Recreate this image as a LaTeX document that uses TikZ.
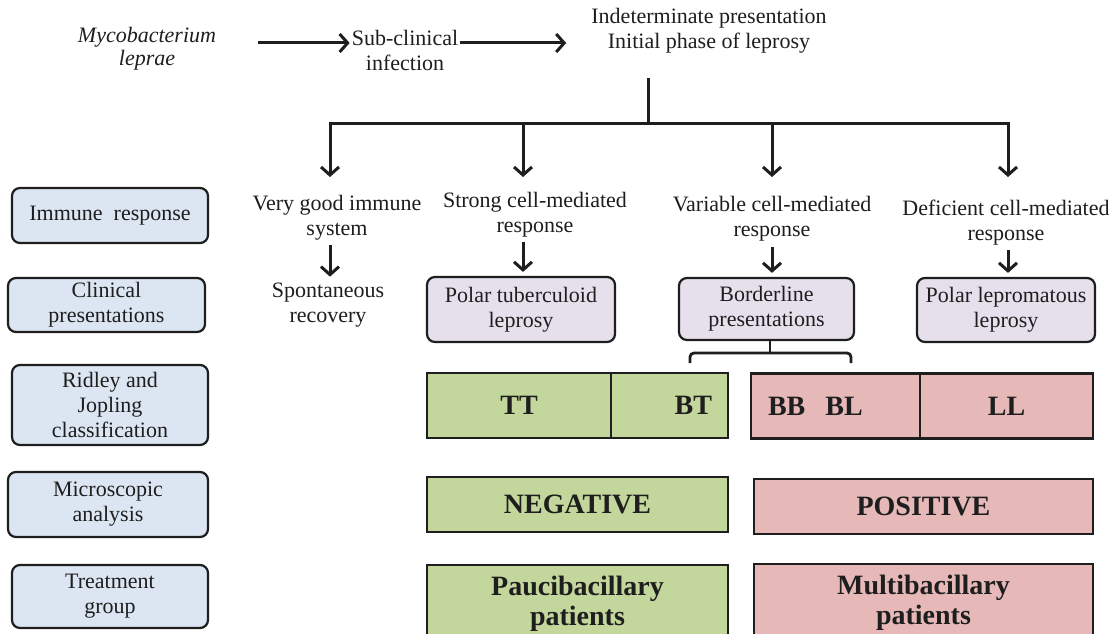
\documentclass[tikz,border=0pt]{standalone}
\usepackage{fontspec}
\setmainfont{Liberation Serif}
\usepackage{tikz}
\usetikzlibrary{arrows.meta}

\definecolor{ink}{HTML}{1E1E1E}
\definecolor{rowblue}{HTML}{DCE6F2}
\definecolor{boxlilac}{HTML}{E5E0EC}
\definecolor{pbgreen}{HTML}{C3D69B}
\definecolor{mbpink}{HTML}{E6B9B8}

\begin{document}
\begin{tikzpicture}[x=1pt, y=-1pt,
    every node/.style={font=\fontsize{22}{25}\selectfont, text=ink, align=center},
    txt/.style={inner sep=2pt},
    rowbox/.style={draw=ink, line width=2.2pt, fill=rowblue, rounded corners=8pt, inner sep=2pt},
    presbox/.style={draw=ink, line width=2.2pt, fill=boxlilac, rounded corners=8pt, inner sep=2pt},
    pbbox/.style={draw=ink, line width=2.2pt, fill=pbgreen, inner sep=2pt,
        font=\fontsize{28}{30}\selectfont\bfseries},
    mbbox/.style={pbbox, fill=mbpink},
    line/.style={draw=ink, line width=3pt},
    arr/.style={line, -{Straight Barb[length=8pt,width=18pt]}}]
    \fill[white] (0,0) rectangle (1117,634);
    \useasboundingbox (0,0) rectangle (1117,634);

    % top row
    \node (myco) [txt, font=\fontsize{22}{23}\selectfont\itshape] at (147,48.5) {Mycobacterium\\ leprae};
    \node (subclin) [txt] at (405,50) {Sub-clinical\\ infection};
    \node (indet) [txt] at (709,30.5) {Indeterminate presentation\\ Initial phase of leprosy};
    \draw[arr] ([xshift=40pt,yshift=5.5pt]myco.east) coordinate (a1) -- (subclin.west |- a1);
    \coordinate (a2) at ([xshift=-23pt]indet.west);
    \draw[arr] (subclin.east |- a1) -- (a2 |- a1);

    % left column
    \node (imm) [rowbox, minimum width=196pt, minimum height=55pt] at (110,215.5) {Immune~ response};
    \node (clin) [rowbox, minimum width=197pt, minimum height=54pt] at (106.5,305) {Clinical\\ presentations};
    \node (rj) [rowbox, minimum width=196pt, minimum height=80pt] at (110,405) {Ridley and\\ Jopling\\ classification};
    \node (mic) [rowbox, minimum width=200pt, minimum height=65pt] at (108,504.5) {Microscopic\\ analysis};
    \node (trt) [rowbox, minimum width=196pt, minimum height=63pt] at (110,596.5) {Treatment\\ group};

    % immune response
    \node (vg) [txt] at (337,217.5) {Very good immune\\ system};
    \node (sc) [txt] at (535,214.5) {Strong cell-mediated\\ response};
    \node (vc) [txt] at (772,219) {Variable cell-mediated\\ response};
    \node (dc) [txt] at (1006,222.5) {Deficient cell-mediated\\ response};

    % tree
    \coordinate (split) at (648,123);
    \coordinate (tips) at (0,177);
    \coordinate (c1) at (330,123);
    \coordinate (c2) at (523,123);
    \coordinate (c3) at (772,123);
    \coordinate (c4) at (1008,123);
    \draw[line, shorten <=23pt] (split |- indet.south) -- (split);
    \draw[arr] (split) -| (c1 |- tips);
    \draw[arr] (split) -| (c4 |- tips);
    \foreach \c in {c2, c3}
        \draw[arr] (\c) -- (\c |- tips);

    % clinical presentations
    \node (sr) [txt] at (328,305) {Spontaneous\\ recovery};
    \node (ptl) [presbox, minimum width=188pt, minimum height=65pt] at (521,309.5) {Polar tuberculoid\\ leprosy};
    \node (bord) [presbox, minimum width=175pt, minimum height=62pt] at (766.5,309) {Borderline\\ presentations};
    \node (plep) [presbox, minimum width=178pt, minimum height=64pt] at (1006,310) {Polar lepromatous\\ leprosy};
    \foreach \c/\a/\b in {c1/vg/sr, c2/sc/ptl, c3/vc/bord, c4/dc/plep}
        \draw[arr, shorten <=3pt, shorten >=4pt] (\c |- \a.south) -- (\c |- \b.north);

    % bracket
    \coordinate (brm) at (770,353);
    \coordinate (brl) at (690,363);
    \coordinate (brr) at (851,363);
    \draw[line, line width=2.8pt] (bord.south -| brm) -- (brm);
    \draw[line, line width=2.8pt, rounded corners=4pt] (brl) |- (brm) -| (brr);

    % Ridley-Jopling
    \node (tt) [pbbox, minimum width=184pt, minimum height=65pt] at (519,405.5) {TT};
    \node (bt) [pbbox, minimum height=65pt, text width=85pt, inner xsep=16pt, align=right] at (669.5,405.5) {BT};
    \node (bbl) [mbbox, minimum height=65pt, text width=135pt, inner xsep=17pt, align=left] at (835.5,406) {BB\hspace{20pt}BL};
    \node (ll) [mbbox, minimum width=173pt, minimum height=65pt] at (1006.5,406) {LL};

    % microscopy and treatment
    \node (neg) [pbbox, minimum width=301pt, minimum height=55pt] at (577.5,504.5) {NEGATIVE};
    \node (pos) [mbbox, minimum width=339pt, minimum height=55pt] at (923.5,506.5) {POSITIVE};
    \node (pau) [pbbox, minimum width=301pt, minimum height=78pt] at (577.5,604) {Paucibacillary\\ patients};
    \node (mul) [mbbox, minimum width=339pt, minimum height=78pt] at (923.5,603) {Multibacillary\\ patients};
\end{tikzpicture}
\end{document}
